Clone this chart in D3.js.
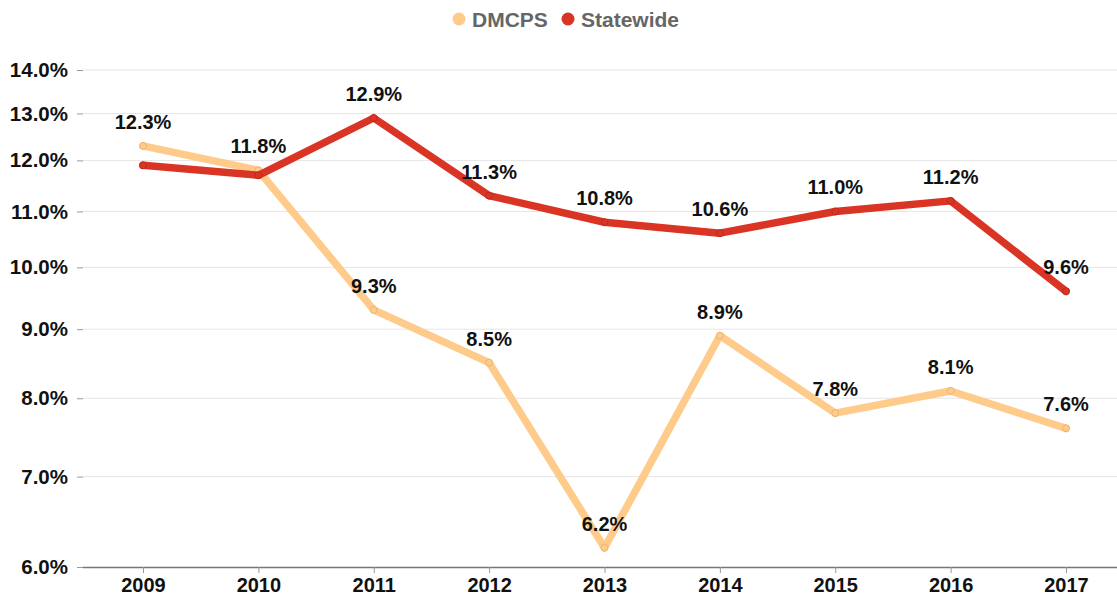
<!DOCTYPE html>
<html>
<head>
<meta charset="utf-8">
<script src="https://cdn.jsdelivr.net/npm/d3@7"></script>
<style>
  html, body { margin: 0; padding: 0; background: #fff; }
  svg { display: block; font-family: "Liberation Sans", Arial, sans-serif; }
</style>
</head>
<body>
<svg id="chart" width="1117" height="597"></svg>
<script>
// Dropout rates by year (percent)
const years = ["2009", "2010", "2011", "2012", "2013", "2014", "2015", "2016", "2017"];
const dmcps = [12.3, 11.8, 9.3, 8.5, 6.2, 8.9, 7.8, 8.1, 7.6];
const statewide = [11.9, 11.7, 12.9, 11.3, 10.8, 10.6, 11.0, 11.2, 9.6];
// labels shown for statewide points (first two overlap the district labels)
const statewideLabelShown = [false, false, true, true, true, true, true, true, true];
const yTicks = [6, 7, 8, 9, 10, 11, 12, 13, 14];

const seriesNames = ["DMCPS", "Statewide"];
const seriesColors = ["#FECB8B", "#D93424"];
const markerStroke = ["#EDB46E", "#C02A1C"];

const svg = d3.select("#chart");
const plot = { left: 83, right: 1117, top: 70, bottom: 567 };
const FONT = "'Liberation Sans', Arial, sans-serif";

const x = d3.scalePoint().domain(years).range([143, 1066]);
const y = d3.scaleLog().domain([6, 14]).range([plot.bottom, plot.top]);

// horizontal gridlines
svg.append("g")
  .selectAll("line")
  .data(yTicks.filter(t => t !== 6))
  .join("line")
  .attr("x1", plot.left).attr("x2", plot.right)
  .attr("y1", d => y(d)).attr("y2", d => y(d))
  .attr("stroke", "#e6e6e6").attr("stroke-width", 1);

// y axis
const yAxis = svg.append("g")
  .attr("transform", `translate(${plot.left},0)`)
  .call(d3.axisLeft(y).tickValues(yTicks).tickFormat(d => d.toFixed(1) + "%").tickSize(6).tickPadding(9));
yAxis.select(".domain").remove();
yAxis.selectAll(".tick line").attr("stroke", "#999");
yAxis.selectAll(".tick text")
  .attr("fill", "#111").attr("font-size", 20.5).attr("font-weight", "bold")
  .attr("font-family", FONT);

// x axis
const xAxis = svg.append("g")
  .attr("transform", `translate(0,${plot.bottom})`)
  .call(d3.axisBottom(x).tickSize(6).tickPadding(5).tickSizeOuter(0));
xAxis.select(".domain").attr("d", `M${plot.left},0.5H${plot.right}`).attr("stroke", "#777").attr("stroke-width", 1.5);
xAxis.selectAll(".tick line").attr("stroke", "#999");
xAxis.selectAll(".tick text")
  .attr("fill", "#111").attr("font-size", 20).attr("font-weight", "bold")
  .attr("font-family", FONT);

const line = d3.line()
  .x((d, i) => x(years[i]))
  .y(d => y(d));

const series = [dmcps, statewide];
series.forEach((vals, s) => {
  svg.append("path")
    .datum(vals)
    .attr("d", line)
    .attr("fill", "none")
    .attr("stroke", seriesColors[s])
    .attr("stroke-width", 7.5)
    .attr("stroke-linejoin", "round")
    .attr("stroke-linecap", "round");
  svg.append("g")
    .selectAll("circle")
    .data(vals)
    .join("circle")
    .attr("cx", (d, i) => x(years[i]))
    .attr("cy", d => y(d))
    .attr("r", 3.5)
    .attr("fill", seriesColors[s])
    .attr("stroke", markerStroke[s])
    .attr("stroke-width", 1);
});

// value labels
function addLabels(vals, shown) {
  svg.append("g")
    .selectAll("text")
    .data(vals.map((v, i) => ({ v, i })).filter(d => shown[d.i]))
    .join("text")
    .attr("x", d => x(years[d.i]))
    .attr("y", d => y(d.v) - 17)
    .attr("text-anchor", "middle")
    .attr("font-size", 20)
    .attr("font-weight", "bold")
    .attr("fill", "#111")
    .text(d => d.v.toFixed(1) + "%");
}
addLabels(dmcps, dmcps.map(() => true));
addLabels(statewide, statewideLabelShown);

// legend
const legend = svg.append("g");
const legendItems = [{ x: 459 }, { x: 568 }];
seriesNames.forEach((name, s) => {
  const g = legend.append("g").attr("transform", `translate(${legendItems[s].x},19)`);
  g.append("circle").attr("r", 6.5).attr("fill", seriesColors[s]);
  g.append("text")
    .attr("x", 13).attr("y", 7.5)
    .attr("font-size", 21).attr("font-weight", "bold")
    .attr("fill", "#666")
    .text(name);
});
</script>
</body>
</html>
